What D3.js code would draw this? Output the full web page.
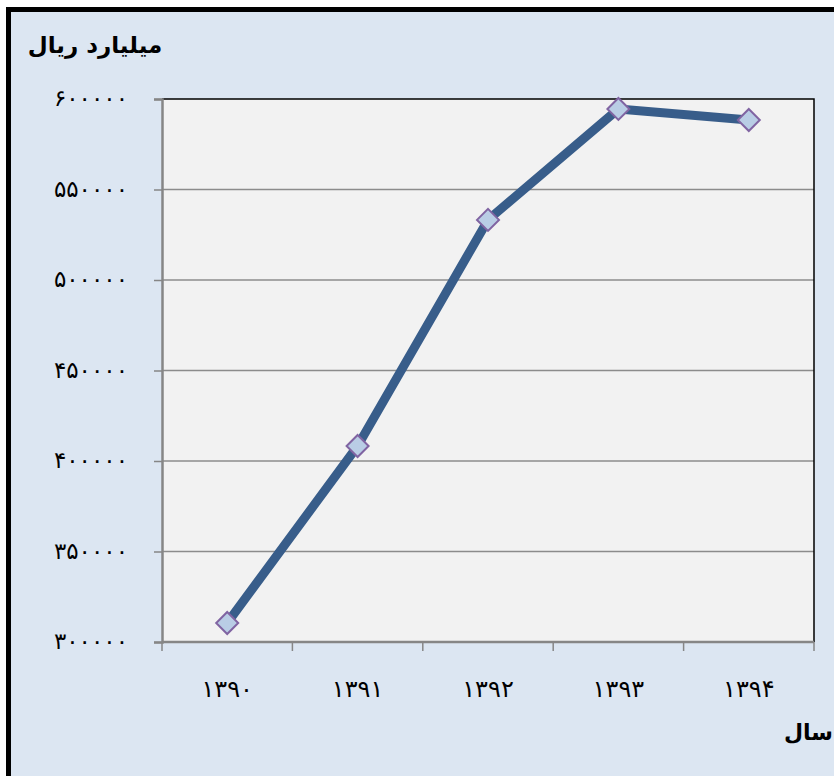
<!DOCTYPE html>
<html>
<head>
<meta charset="utf-8">
<script src="https://cdn.jsdelivr.net/npm/d3@7"></script>
<style>
  body { margin: 0; background: #ffffff; }
  svg { display: block; }
</style>
</head>
<body>
<div id="chart"></div>
<script>
// data
const years = ["۱۳۹۰", "۱۳۹۱", "۱۳۹۲", "۱۳۹۳", "۱۳۹۴"];
const values = [310500, 408300, 533200, 594500, 588400];
const yTicks = [300000, 350000, 400000, 450000, 500000, 550000, 600000];

const W = 834, H = 776;
const plot = { left: 162, right: 814, top: 99, bottom: 642 };

const faDigits = "۰۱۲۳۴۵۶۷۸۹";
const toFa = (n) => String(n).replace(/\d/g, (c) => faDigits[+c]);

const svg = d3.select("#chart").append("svg")
  .attr("width", W).attr("height", H);

// outer frame
svg.append("rect").attr("x", 0).attr("y", 0).attr("width", W).attr("height", H).attr("fill", "#ffffff");
svg.append("rect")
  .attr("x", 8.5).attr("y", 9.5)
  .attr("width", W + 20).attr("height", H + 20)
  .attr("fill", "#dce6f2")
  .attr("stroke", "#000").attr("stroke-width", 5);

const xScale = d3.scaleBand().domain(years).range([plot.left, plot.right]);
const yScale = d3.scaleLinear().domain([300000, 600000]).range([plot.bottom, plot.top]);

// plot area
svg.append("rect")
  .attr("x", plot.left).attr("y", plot.top)
  .attr("width", plot.right - plot.left).attr("height", plot.bottom - plot.top)
  .attr("fill", "#f2f2f2");

// gridlines
svg.append("g")
  .selectAll("line")
  .data(yTicks.filter((d) => d > 300000 && d < 600000))
  .join("line")
  .attr("x1", plot.left).attr("x2", plot.right)
  .attr("y1", (d) => yScale(d)).attr("y2", (d) => yScale(d))
  .attr("stroke", "#8c8c8c").attr("stroke-width", 1.5);

// top & right border of plot
svg.append("path")
  .attr("d", `M${plot.left},${plot.top}H${plot.right}V${plot.bottom}`)
  .attr("fill", "none").attr("stroke", "#000").attr("stroke-width", 1.5);

// y axis
const yAxis = d3.axisLeft(yScale).tickValues(yTicks).tickSize(8).tickPadding(26).tickFormat(toFa);
const yg = svg.append("g").attr("transform", `translate(${plot.left},0)`).call(yAxis);
yg.select(".domain").attr("stroke", "#868686").attr("stroke-width", 2.5);
yg.selectAll(".tick line").attr("stroke", "#868686").attr("stroke-width", 1.5);
yg.selectAll(".tick text")
  .attr("font-family", "'DejaVu Sans', sans-serif").attr("font-size", 23).attr("fill", "#000")
  .attr("letter-spacing", 2.5)
  .attr("dy", "0.3em");

// x axis with ticks at category boundaries
svg.append("line")
  .attr("x1", plot.left).attr("x2", plot.right)
  .attr("y1", plot.bottom).attr("y2", plot.bottom)
  .attr("stroke", "#868686").attr("stroke-width", 2.5);
const bounds = years.map((d) => xScale(d)).concat([plot.right]);
svg.append("g").selectAll("line").data(bounds).join("line")
  .attr("x1", (d) => d).attr("x2", (d) => d)
  .attr("y1", plot.bottom).attr("y2", plot.bottom + 9)
  .attr("stroke", "#868686").attr("stroke-width", 1.5);
svg.append("g").selectAll("text").data(years).join("text")
  .attr("x", (d) => xScale(d) + xScale.bandwidth() / 2)
  .attr("y", 697)
  .attr("text-anchor", "middle")
  .attr("font-family", "'DejaVu Sans', sans-serif").attr("font-size", 24).attr("fill", "#000")
  .attr("letter-spacing", 2)
  .text((d) => d);

// line
const line = d3.line()
  .x((d, i) => xScale(years[i]) + xScale.bandwidth() / 2)
  .y((d) => yScale(d));
svg.append("path").datum(values)
  .attr("d", line)
  .attr("fill", "none").attr("stroke", "#385d8a").attr("stroke-width", 9)
  .attr("stroke-linejoin", "round");

// diamond markers
svg.append("g").selectAll("path").data(values).join("path")
  .attr("transform", (d, i) => `translate(${xScale(years[i]) + xScale.bandwidth() / 2},${yScale(d)})`)
  .attr("d", "M0,-11L11,0L0,11L-11,0Z")
  .attr("fill", "#b9cde5").attr("stroke", "#8064a2").attr("stroke-width", 2);

// titles
svg.append("text")
  .attr("x", 95).attr("y", 53)
  .attr("text-anchor", "middle")
  .attr("font-family", "'DejaVu Sans', sans-serif").attr("font-weight", "bold").attr("font-size", 23)
  .attr("fill", "#000")
  .text("میلیارد ریال");
svg.append("text")
  .attr("x", 833).attr("y", 740)
  .attr("text-anchor", "end")
  .attr("font-family", "'DejaVu Sans', sans-serif").attr("font-weight", "bold").attr("font-size", 22)
  .attr("fill", "#000")
  .text("سال");
</script>
</body>
</html>
